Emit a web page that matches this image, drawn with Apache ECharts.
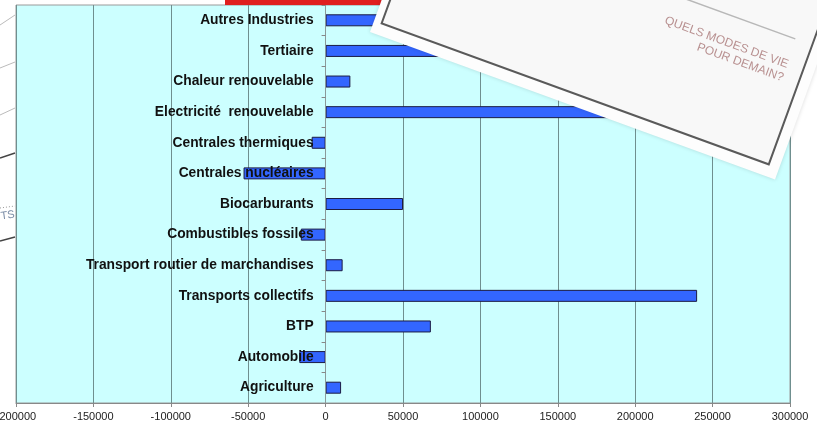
<!DOCTYPE html>
<html>
<head>
<meta charset="utf-8">
<script src="https://cdn.jsdelivr.net/npm/echarts@6/dist/echarts.min.js"></script>
<style>
  html, body { margin: 0; padding: 0; background: #fff; }
  #chart { width: 817px; height: 425px; }
</style>
</head>
<body>
<div id="chart"></div>
<script>
// categories, bottom to top
var secteurs = ['Agriculture', 'Automobile', 'BTP', 'Transports collectifs',
  'Transport routier de marchandises', 'Combustibles fossiles', 'Biocarburants',
  'Centrales nucléaires', 'Centrales thermiques', 'Electricité  renouvelable',
  'Chaleur renouvelable', 'Tertiaire', 'Autres Industries'];
// values (last bars partly hidden by the card)
var valeurs = [10000, -17000, 68000, 240000, 11000, -16000, 50000,
  -53000, -9000, 210000, 16000, 100000, 45000];
var xMin = -200000;
var xMax = 300000;
var xStep = 50000;

var chart = echarts.init(document.getElementById('chart'));

var deg = Math.PI / 180;
var gridLeft = 16, gridRight = 27;
// pixel distance from grid left edge to x = 0
var zeroOffset = (0 - xMin) / (xMax - xMin) * (817 - gridLeft - gridRight);

var option = {
  animation: false,
  textStyle: { fontFamily: 'Liberation Sans, Arial, sans-serif' },
  grid: {
    left: gridLeft, right: gridRight, top: 5, bottom: 22,
    containLabel: false,
    outerBoundsMode: 'none',
    show: true,
    backgroundColor: '#ccffff',
    borderColor: '#9a9a9a',
    borderWidth: 1
  },
  xAxis: {
    type: 'value',
    min: xMin,
    max: xMax,
    interval: xStep,
    axisLine: { show: true, lineStyle: { color: '#888' } },
    axisTick: { show: true, length: 4, lineStyle: { color: '#888' } },
    axisLabel: {
      color: '#222', fontSize: 11, margin: 8,
      formatter: function (v) { return String(v); }
    },
    splitLine: { show: true, lineStyle: { color: '#6f8f8f', width: 1 } }
  },
  yAxis: {
    type: 'category',
    data: secteurs,
    position: 'left',
    offset: -zeroOffset,
    z: 10,
    axisLine: { show: true, onZero: false, lineStyle: { color: '#8a9a9a' } },
    axisTick: { show: true, length: 4, alignWithLabel: false, lineStyle: { color: '#888' } },
    axisLabel: { color: '#111', fontSize: 13.8, fontWeight: 'bold', margin: 12 },
    splitLine: { show: false }
  },
  series: [{
    type: 'bar',
    data: valeurs,
    barWidth: 12,
    itemStyle: { color: '#3366ff', borderColor: '#1c1c44', borderWidth: 1 }
  }],
  graphic: [
    // red poster edge behind the card
    { type: 'rect', z: 100, shape: { x: 225, y: 0, width: 600, height: 5 },
      style: { fill: '#e01e1e' } },
    // left paper sheet
    { type: 'rect', z: 100, shape: { x: 0, y: 0, width: 15, height: 403 },
      style: { fill: '#fff' } },
    { type: 'line', z: 101, shape: { x1: 0, y1: 25, x2: 15, y2: 15 }, style: { stroke: '#bbb', lineWidth: 1 } },
    { type: 'line', z: 101, shape: { x1: 0, y1: 68, x2: 15, y2: 62 }, style: { stroke: '#bbb', lineWidth: 1 } },
    { type: 'line', z: 101, shape: { x1: 0, y1: 115, x2: 15, y2: 108 }, style: { stroke: '#bbb', lineWidth: 1 } },
    { type: 'line', z: 101, shape: { x1: 0, y1: 158, x2: 15, y2: 153 }, style: { stroke: '#444', lineWidth: 1.5 } },
    { type: 'line', z: 101, shape: { x1: 0, y1: 208, x2: 15, y2: 206 }, style: { stroke: '#999', lineWidth: 1, lineDash: [1, 2] } },
    { type: 'text', z: 101, x: 0, y: 211, rotation: 8 * deg,
      style: { text: 'TS', fill: '#7d8fa8', fontSize: 11 } },
    { type: 'line', z: 101, shape: { x1: 0, y1: 241, x2: 15, y2: 237 }, style: { stroke: '#444', lineWidth: 1.5 } },
    // tilted card, top right
    {
      type: 'group', x: 370, y: 32, rotation: -20 * deg,
      children: [
        { type: 'rect', z: 110, shape: { x: 0, y: -240, width: 431, height: 240 },
          style: { fill: '#fdfdfd', shadowBlur: 4, shadowColor: 'rgba(0,0,0,0.15)' } },
        { type: 'rect', z: 111, shape: { x: 8, y: -240, width: 412, height: 228 },
          style: { fill: '#f8f8f8', stroke: '#5a5a5a', lineWidth: 2 } },
        { type: 'line', z: 112, shape: { x1: 180, y1: -139, x2: 402, y2: -139 },
          style: { stroke: '#b8b8b8', lineWidth: 1.5 } },
        { type: 'text', z: 112, x: 404, y: -106,
          style: { text: 'QUELS MODES DE VIE', fill: '#b89090', fontSize: 12, align: 'right', verticalAlign: 'bottom' } },
        { type: 'text', z: 112, x: 404, y: -92,
          style: { text: 'POUR DEMAIN?', fill: '#b89090', fontSize: 12, align: 'right', verticalAlign: 'bottom' } }
      ]
    }
  ]
};

chart.setOption(option);
</script>
</body>
</html>
